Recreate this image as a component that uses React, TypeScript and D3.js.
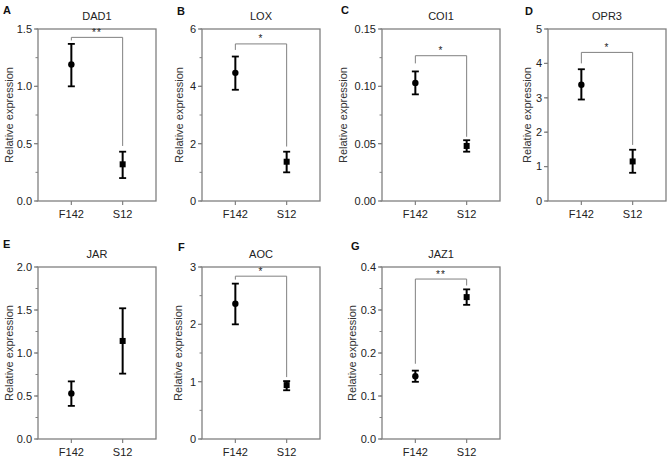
import React from "react";
import * as d3 from "d3";

// ---- data ----
const genes = ["DAD1", "LOX", "COI1", "OPR3", "JAR", "AOC", "JAZ1"];
const panelLetters = ["A", "B", "C", "D", "E", "F", "G"];
const groups = ["F142", "S12"];
const f142Mean = [1.19, 4.47, 0.103, 3.38, 0.53, 2.36, 0.146];
const f142Low = [1.0, 3.88, 0.093, 2.95, 0.385, 2.0, 0.133];
const f142High = [1.37, 5.04, 0.113, 3.83, 0.67, 2.71, 0.159];
const s12Mean = [0.32, 1.37, 0.048, 1.15, 1.14, 0.94, 0.33];
const s12Low = [0.2, 1.0, 0.043, 0.82, 0.76, 0.85, 0.312];
const s12High = [0.43, 1.72, 0.053, 1.49, 1.52, 1.01, 0.348];
const yMax = [1.5, 6, 0.15, 5, 2, 3, 0.4];
const majorStep = [0.5, 2, 0.05, 1, 0.5, 1, 0.1];
const minorStep = [0.25, 1, 0.025, 1, 0.25, 0.5, 0.05];
const tickDecimals = [1, 0, 2, 0, 1, 0, 1];
const sigLabels = ["**", "*", "*", "*", "", "*", "**"];
const bracketTop = [1.427, 5.48, 0.1267, 4.32, 0, 2.84, 0.372];
const bracketLeftEnd = [1.4, 5.27, 0.12, 4.0, 0, 2.78, 0.175];
const bracketRightEnd = [0.48, 1.9, 0.056, 1.63, 0, 1.08, 0.357];

// ---- layout ----
const plotLeft = [38, 202, 382, 548, 38, 202, 382];
const plotTop = [29, 29, 29, 29, 267, 267, 267];
const letterX = [3, 177, 341, 525, 3, 178, 351];
const letterY = [14, 15, 14, 15, 248, 251, 250];
const yLabelX = [9, 179, 343, 527, 9, 178, 352];
const PW = 118;
const PH = 172;
const FONT = "'Liberation Sans', Arial, sans-serif";
const FRAME = "#808080";

function Panel({ i }: { i: number }) {
  const left = plotLeft[i];
  const top = plotTop[i];
  const x = d3.scalePoint<string>().domain(groups).range([left, left + PW]).padding(0.65);
  const y = d3.scaleLinear().domain([0, yMax[i]]).range([top + PH, top]);
  const n = Math.round(yMax[i] / majorStep[i]);
  const majors = d3.range(0, n + 1).map((k) => k * majorStep[i]);
  const m = Math.round(yMax[i] / minorStep[i]);
  const minors = d3.range(0, m + 1).map((k) => k * minorStep[i]);
  const fmt = d3.format(`.${tickDecimals[i]}f`);
  const means = [f142Mean[i], s12Mean[i]];
  const lows = [f142Low[i], s12Low[i]];
  const highs = [f142High[i], s12High[i]];
  const x0 = x(groups[0])!;
  const x1 = x(groups[1])!;
  const bottom = top + PH;
  return (
    <g>
      <text x={letterX[i]} y={letterY[i]} fontSize={11} fontWeight="bold" fill="#111" fontFamily={FONT}>
        {panelLetters[i]}
      </text>
      <text x={left + PW / 2} y={top - 9} fontSize={11} textAnchor="middle" fill="#222" fontFamily={FONT}>
        {genes[i]}
      </text>
      <rect x={left} y={top} width={PW} height={PH} fill="none" stroke={FRAME} strokeWidth={1.3} />
      {minors.map((v, k) => (
        <line key={"mn" + k} x1={left - 2.5} x2={left} y1={y(v)} y2={y(v)} stroke={FRAME} strokeWidth={1} />
      ))}
      {majors.map((v, k) => (
        <g key={"mj" + k}>
          <line x1={left - 4} x2={left} y1={y(v)} y2={y(v)} stroke={FRAME} strokeWidth={1.2} />
          <text x={left - 6} y={y(v)} dy="0.35em" fontSize={11} textAnchor="end" fill="#222" fontFamily={FONT}>
            {fmt(v)}
          </text>
        </g>
      ))}
      {groups.map((g) => (
        <g key={g}>
          <line x1={x(g)} x2={x(g)} y1={bottom} y2={bottom + 4} stroke={FRAME} strokeWidth={1.2} />
          <text x={x(g)} y={bottom + 17} fontSize={11} textAnchor="middle" fill="#222" fontFamily={FONT}>
            {g}
          </text>
        </g>
      ))}
      <text
        transform={`translate(${yLabelX[i]},${top + PH / 2}) rotate(-90)`}
        dy="0.35em"
        fontSize={11}
        textAnchor="middle"
        fill="#333"
        fontFamily={FONT}
      >
        Relative expression
      </text>
      {sigLabels[i] && (
        <g>
          <path
            d={`M${x0},${y(bracketLeftEnd[i])}V${y(bracketTop[i])}H${x1}V${y(bracketRightEnd[i])}`}
            fill="none"
            stroke="#808080"
            strokeWidth={1}
          />
          <text
            x={(x0 + x1) / 2}
            y={y(bracketTop[i]) - 1.5}
            fontSize={10}
            textAnchor="middle"
            fill="#222"
            fontFamily={FONT}
            letterSpacing={1}
          >
            {sigLabels[i]}
          </text>
        </g>
      )}
      {groups.map((g, k) => {
        const cx = x(g)!;
        return (
          <g key={"e" + g}>
            <line x1={cx} x2={cx} y1={y(lows[k])} y2={y(highs[k])} stroke="#000" strokeWidth={2} />
            <line x1={cx - 3.5} x2={cx + 3.5} y1={y(lows[k])} y2={y(lows[k])} stroke="#000" strokeWidth={1.8} />
            <line x1={cx - 3.5} x2={cx + 3.5} y1={y(highs[k])} y2={y(highs[k])} stroke="#000" strokeWidth={1.8} />
            {k === 0 ? (
              <circle cx={cx} cy={y(means[k])} r={3.2} fill="#000" />
            ) : (
              <rect x={cx - 3} y={y(means[k]) - 3} width={6} height={6} fill="#000" />
            )}
          </g>
        );
      })}
    </g>
  );
}

export default function App() {
  return (
    <svg
      width={669}
      height={459}
      style={{ position: "absolute", left: 0, top: 0, background: "#fff" }}
    >
      <rect width={669} height={459} fill="#fff" />
      {genes.map((_, i) => (
        <Panel key={i} i={i} />
      ))}
    </svg>
  );
}
